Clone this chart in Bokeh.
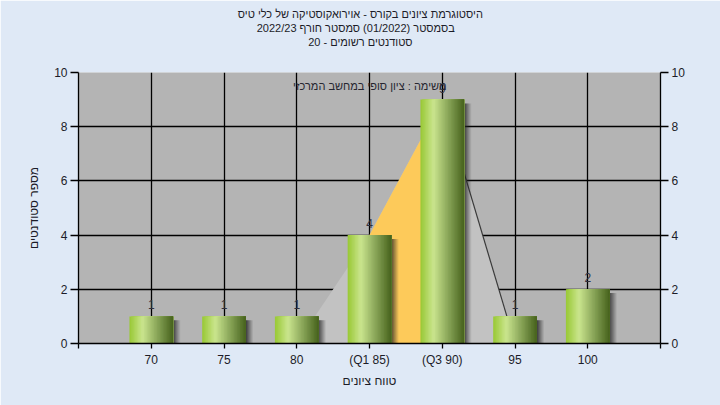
from bokeh.plotting import figure
from bokeh.models import Range1d, LinearAxis, FixedTicker, Label, ColumnDataSource, Title
from bokeh.embed import file_html
from bokeh.resources import INLINE
from bokeh.core.properties import value

# ---------------- data ----------------
title_lines = [
    "היסטוגרמת ציונים בקורס - אוירואקוסטיקה של כלי טיס",
    "בסמסטר  (01/2022)  סמסטר חורף  2022/23",
    "סטודנטים רשומים - 20",
]
categories = ["70", "75", "80", "(Q1 85)", "(Q3 90)", "95", "100"]
counts = [1, 1, 1, 4, 9, 1, 2]
outline_cats = ["80", "(Q1 85)", "(Q3 90)", "95"]
outline_vals = [0, 4, 9, 0]
quartile_cats = ["(Q1 85)", "(Q3 90)"]
quartile_vals = [4, 9]
note_text = "משימה : ציון סופי במחשב המרכזי"
y_label = "מספר סטודנטים"
x_label = "טווח ציונים"
y_ticks = [0, 2, 4, 6, 8, 10]

FONT = "Liberation Sans"
TXT = "#1c1c28"
pos = {c: i + 1 for i, c in enumerate(categories)}

p = figure(width=720, height=405, x_range=Range1d(0, len(categories) + 1),
           y_range=Range1d(0, 10), output_backend="svg", toolbar_location=None,
           min_border_left=78, min_border_right=60, min_border_top=72, min_border_bottom=62)
p.background_fill_color = "#b4b4b4"
p.border_fill_color = "#dfe9f6"
p.outline_line_color = None

# titles: spacer closest to the frame, then lines from bottom to top
PAD = "\u00a0" * 6
p.add_layout(Title(text="\u00a0", align="center", standoff=11, text_font=FONT,
                   text_font_size="11px", text_line_height=1.0), "above")
for line in reversed(title_lines):
    p.add_layout(Title(text=line + PAD, align="center", standoff=0,
                       text_font=FONT, text_font_size="11px", text_font_style="normal",
                       text_color=TXT, text_line_height=1.0), "above")

# axes
xt = list(range(0, len(categories) + 2))
overrides = {0: "", len(categories) + 1: ""}
for c, i in pos.items():
    overrides[i] = c
p.xaxis.ticker = FixedTicker(ticks=xt)
p.xaxis.major_label_overrides = overrides
p.yaxis.ticker = FixedTicker(ticks=y_ticks)
right = LinearAxis(ticker=FixedTicker(ticks=y_ticks))
p.add_layout(right, "right")

for ax in [p.xaxis[0], p.yaxis[0], right]:
    ax.axis_line_color = "black"
    ax.axis_line_width = 1.3
    ax.major_tick_line_color = "black"
    ax.major_tick_line_width = 1.3
    ax.major_tick_in = 0
    ax.minor_tick_line_color = None
    ax.major_label_text_font = FONT
    ax.major_label_text_font_size = "12px"
    ax.major_label_text_color = TXT
    ax.axis_label_text_font = FONT
    ax.axis_label_text_font_size = "12px"
    ax.axis_label_text_font_style = "normal"
    ax.axis_label_text_color = TXT

p.yaxis[0].major_tick_out = 8
p.yaxis[0].major_label_standoff = 3
p.yaxis[0].axis_label = y_label
p.yaxis[0].axis_label_standoff = 10
right.major_tick_out = 8
right.major_label_standoff = 3
p.xaxis[0].major_tick_out = 5
p.xaxis[0].major_label_standoff = 4
p.xaxis[0].axis_label = x_label
p.xaxis[0].axis_label_standoff = 4

p.xgrid.grid_line_color = "black"
p.xgrid.grid_line_width = 1.3
p.ygrid.grid_line_color = "black"
p.ygrid.grid_line_width = 1.3

# distribution outline and quartile area
p.patch([pos[c] for c in outline_cats], outline_vals, fill_color="#c2c2c2", line_color=None)
p.patch([pos[quartile_cats[0]], pos[quartile_cats[0]], pos[quartile_cats[1]], pos[quartile_cats[1]]],
        [0, quartile_vals[0], quartile_vals[1], 0], fill_color="#fdca5a", line_color=None)
p.line([pos[outline_cats[2]], pos[outline_cats[3]]], [outline_vals[2], outline_vals[3]],
       line_color="#3a3a3a", line_width=1.2)

# bar shadows
BW = 0.6
sx, stop, salpha = [], [], []
NS = 7
sw = 0.014
for c, v in zip(categories, counts):
    for k in range(NS):
        sx.append(pos[c] + BW / 2 + (k + 0.5) * sw)
        stop.append(v - 0.14)
        salpha.append(0.85 * (1 - k / NS) ** 1.2)
p.vbar(x=sx, top=stop, bottom=0, width=sw * 1.05, fill_color="#262626",
       fill_alpha=salpha, line_color=None)

# gradient bars: each strip runs from its left edge to the bar's right edge (no seams)
stops = [(0.0, (152, 200, 52)), (0.3, (202, 229, 142)), (0.58, (148, 176, 98)), (1.0, (70, 98, 28))]

def grad(t):
    for (t0, c0), (t1, c1) in zip(stops[:-1], stops[1:]):
        if t <= t1:
            f = (t - t0) / (t1 - t0)
            return "#%02x%02x%02x" % tuple(int(round(a + (b - a) * f)) for a, b in zip(c0, c1))
    return "#%02x%02x%02x" % stops[-1][1]

N = 30
bl, br, btop, bcol = [], [], [], []
for j in range(N):
    t = (j + 0.5) / N
    for c, v in zip(categories, counts):
        bl.append(pos[c] - BW / 2 + j / N * BW)
        br.append(pos[c] + BW / 2)
        btop.append(v)
        bcol.append(grad(t))
p.quad(left=bl, right=br, top=btop, bottom=0, fill_color=bcol, line_color=None)

# value labels
src = ColumnDataSource(dict(x=[pos[c] for c in categories], y=counts, t=[str(v) for v in counts]))
p.text(x="x", y="y", text="t", source=src, text_align="center", text_baseline="bottom",
       y_offset=-7, text_font=value(FONT), text_font_size="12px", text_color="#30303c")

# note
p.add_layout(Label(x=pos[quartile_cats[1]] + 0.045, y=9.52, x_offset=1, text=note_text,
                   text_align="right", text_baseline="middle", text_font=FONT,
                   text_font_size="11px", text_color="#262630"))

open("out.html", "w").write(file_html(p, INLINE))
